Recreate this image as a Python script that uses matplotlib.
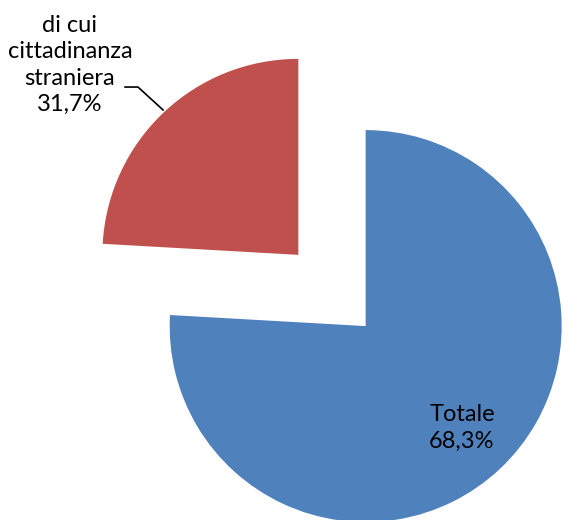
import matplotlib
matplotlib.use("Agg")
import matplotlib.pyplot as plt

# Data (slice shares as drawn; label texts as printed on the chart)
categories = ["Totale", "di cui\ncittadinanza\nstraniera"]
shares = [75.9, 24.1]
pct_labels = ["68,3%", "31,7%"]
colors = ["#4F81BD", "#C0504D"]

plt.rcParams['font.family'] = ['Lato', 'DejaVu Sans']

fig = plt.figure(figsize=(5.63, 5.20), dpi=100)
ax = fig.add_axes([0, 0, 1, 1])
ax.pie(shares, colors=colors, startangle=90, counterclock=False,
       explode=[0.25, 0.25], radius=1.0,
       wedgeprops=dict(linewidth=0))
ax.set_xlim(-1.694, 1.1786)
ax.set_ylim(-1.171, 1.482)
ax.set_aspect('equal')
ax.axis('off')

# Labels
ax.text(0.663, -0.702, f"{categories[0]}\n{pct_labels[0]}", ha='center', va='center',
        multialignment='center', fontsize=17, linespacing=1.32, color='black')
ax.text(-1.337, 1.151, f"{categories[1]}\n{pct_labels[1]}", ha='center', va='center',
        multialignment='center', fontsize=17, linespacing=1.32, color='black')
ax.plot([-1.056, -0.990, -0.862], [1.038, 1.038, 0.921], color='black', lw=1.2)

fig.savefig("out.png", dpi=100)
